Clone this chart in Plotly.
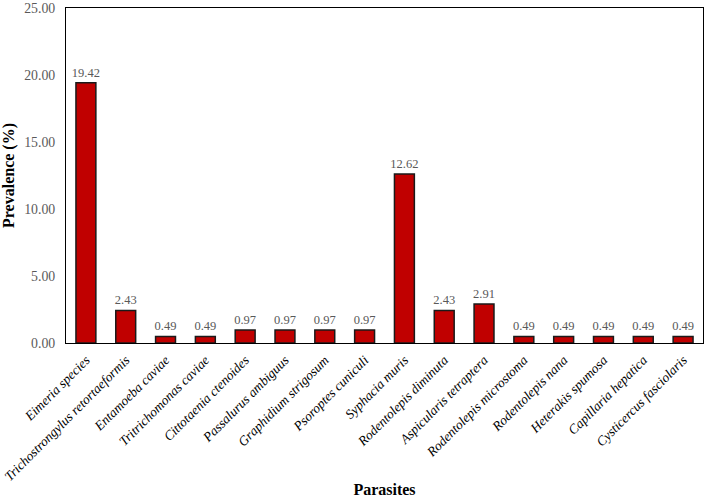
import plotly.graph_objects as go

parasites = ["Eimeria species", "Trichostrongylus retortaeformis", "Entamoeba caviae",
             "Tritrichomonas caviae", "Cittotaenia ctenoides", "Passalurus ambiguus",
             "Graphidium strigosum", "Psoroptes cuniculi", "Syphacia muris",
             "Rodentolepis diminuta", "Aspicularis tetraptera", "Rodentolepis microstoma",
             "Rodentolepis nana", "Heterakis spumosa", "Capillaria hepatica",
             "Cysticercus fasciolaris"]
prevalence = [19.42, 2.43, 0.49, 0.49, 0.97, 0.97, 0.97, 0.97, 12.62, 2.43, 2.91,
              0.49, 0.49, 0.49, 0.49, 0.49]
y_ticks = [0, 5, 10, 15, 20, 25]

FONT = "Liberation Serif"

fig = go.Figure(go.Bar(
    x=parasites, y=prevalence,
    marker=dict(color="#C00000", line=dict(color="#1a1a1a", width=1.5)),
    text=[f"{v:.2f}" for v in prevalence], textposition="outside",
    textfont=dict(family=FONT, size=12.5, color="#595959"),
    constraintext="none",
    cliponaxis=False,
))

fig.update_layout(
    width=709, height=498,
    margin=dict(l=66, r=6, t=8, b=155),
    paper_bgcolor="white", plot_bgcolor="white",
    bargap=0.5, showlegend=False,
    font=dict(family=FONT),
    xaxis=dict(
        tickmode="array", tickvals=parasites,
        ticktext=[f"<i>{p}</i>" for p in parasites],
        tickangle=-45, tickfont=dict(family=FONT, size=13.4, color="black"),
        ticklabelstandoff=3,
        showline=True, linecolor="black", linewidth=1, mirror=True,
        showgrid=False, ticks="", automargin=False,
        title=dict(text="<b>Parasites</b>", font=dict(family=FONT, size=16, color="black"), standoff=0),
    ),
    yaxis=dict(
        range=[0, 25], tickvals=y_ticks, ticktext=[f"{v:.2f}" for v in y_ticks],
        tickfont=dict(family=FONT, size=13.8, color="#595959"),
        ticklabelstandoff=7,
        showline=True, linecolor="black", linewidth=1, mirror=True,
        showgrid=False, ticks="", zeroline=False, automargin=False,
        title=dict(text="<b>Prevalence (%)</b>", font=dict(family=FONT, size=16, color="black"), standoff=5),
    ),
)

fig.write_html("out.html", config={"displayModeBar": False},
               post_script="document.body.style.margin='0';document.body.style.overflow='hidden';")
